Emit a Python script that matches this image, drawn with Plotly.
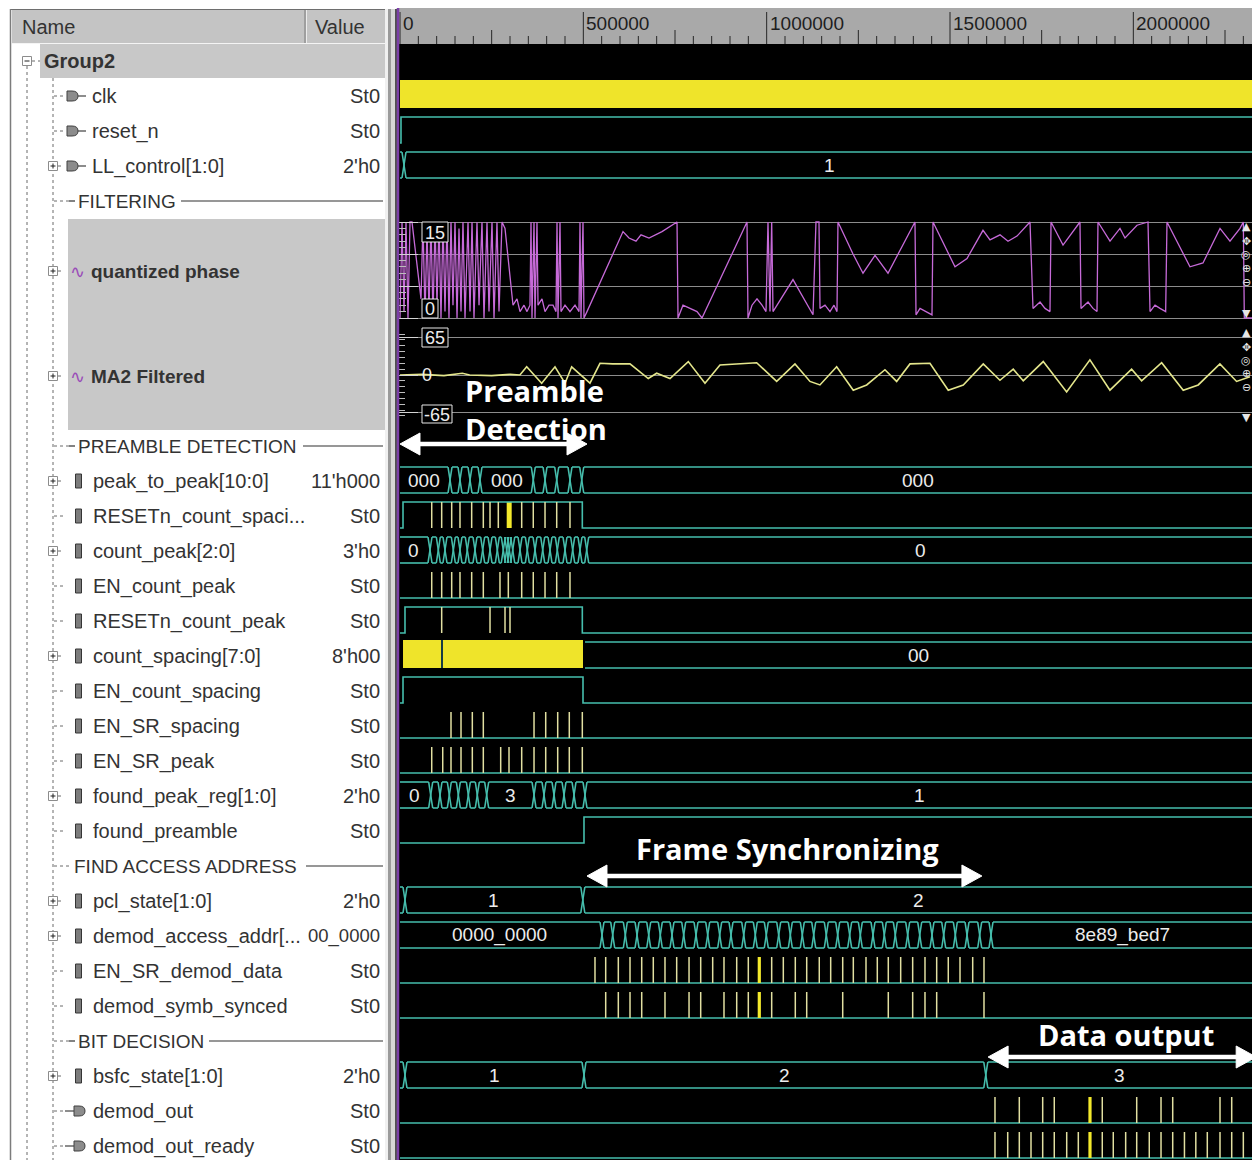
import plotly.graph_objects as go

# ------------------------------------------------------------------ canvas
W, H = 1252, 1160
PANE_X = 398                      # first pixel column of the waveform pane
T_LEFT, T_RIGHT = -5455, 2323640  # simulation-time window shown in the pane
K = 1000                          # waveform times below are in thousands
HALF = 13                         # half height of a digital trace (px)
XW = 5500                         # half width of a bus transition "X"

SANS = "Liberation Sans, Arial, sans-serif"
TEAL = "#46bead"
PULSE = "#e2e0a2"
BRIGHT = "#f3e92c"
YELLOW = "#efe42a"
PURPLE = "#c66ad8"
MA2_COLOR = "#e4e68c"
LABEL = "#ececec"
PANEL_TEXT = "#333333"

# ------------------------------------------------------------------ time ruler
TIME_TICKS = [0, 500000, 1000000, 1500000, 2000000]
TIME_TICK_LABELS = ["0", "500000", "1000000", "1500000", "2000000"]
MINOR_STEP = 50000

# ------------------------------------------------------------------ signal list
ROW_NAMES = ["Group2", "clk", "reset_n", "LL_control[1:0]", "FILTERING",
             "quantized phase", "MA2 Filtered", "PREAMBLE DETECTION",
             "peak_to_peak[10:0]", "RESETn_count_spaci...", "count_peak[2:0]",
             "EN_count_peak", "RESETn_count_peak", "count_spacing[7:0]",
             "EN_count_spacing", "EN_SR_spacing", "EN_SR_peak",
             "found_peak_reg[1:0]", "found_preamble", "FIND ACCESS ADDRESS",
             "pcl_state[1:0]", "demod_access_addr[...", "EN_SR_demod_data",
             "demod_symb_synced", "BIT DECISION", "bsfc_state[1:0]",
             "demod_out", "demod_out_ready"]
ROW_VALUES = ["", "St0", "St0", "2'h0", "", "", "", "", "11'h000", "St0", "3'h0",
              "St0", "St0", "8'h00", "St0", "St0", "St0", "2'h0", "St0", "",
              "2'h0", "00_0000", "St0", "St0", "", "2'h0", "St0", "St0"]
ROW_KINDS = ["group", "in", "in", "in+", "div", "analog+", "analog+", "div",
             "sig+", "sig", "sig+", "sig", "sig", "sig+", "sig", "sig", "sig",
             "sig+", "sig", "div", "sig+", "sig+", "sig", "sig", "div", "sig+",
             "out", "out"]
ROW_SLOTS = [1, 1, 1, 1, 1, 3, 3, 1, 1, 1, 1, 1, 1, 1, 1, 1, 1, 1, 1, 1, 1, 1,
             1, 1, 1, 1, 1, 1]

DIVIDER_TEXT_X = {"FILTERING": 76, "PREAMBLE DETECTION": 76,
                  "FIND ACCESS ADDRESS": 72, "BIT DECISION": 76}
DIVIDER_RULE_X = {"FILTERING": 181, "PREAMBLE DETECTION": 303,
                  "FIND ACCESS ADDRESS": 306, "BIT DECISION": 209}

# ------------------------------------------------------------------ waveforms (times in k-units)
RESET_N_EDGES = [2.7]
LL_CONTROL_EDGES = [10.9]
LL_CONTROL_LABELS = [None, "1"]

PEAK_TO_PEAK_EDGES = [136.4, 163.6, 190.9, 218.2, 363.5, 395.5, 427.4, 463.6, 495.6]
PEAK_TO_PEAK_LABELS = ["000", None, None, None, "000", None, None, None, None, "000"]

RESETN_SPACING_EDGES = [8.2, 497.2]
RESETN_SPACING_PULSES = [86.5, 113.7, 141.0, 163.6, 195.5, 227.2, 245.5, 268.1,
                         331.9, 363.5, 395.5, 427.4, 463.6]
RESETN_SPACING_GLITCH = [291.0, 304.6]

COUNT_PEAK_EDGES = [81.8, 104.5, 122.7, 145.4, 163.6, 183.5, 204.5, 225.5, 245.5,
                    265.4, 281.7, 291.0, 298.1, 307.4, 327.3, 347.2, 368.2, 389.2,
                    409.1, 429.0, 450.0, 471.0, 490.9, 509.2]
COUNT_PEAK_LABELS = ["0"] + [None] * 23 + ["0"]

EN_COUNT_PEAK_PULSES = [86.5, 113.7, 141.0, 163.6, 195.5, 227.2, 272.7, 295.4,
                        331.9, 363.5, 395.5, 427.4, 463.6]

RESETN_PEAK_EDGES = [13.6, 497.2]
RESETN_PEAK_PULSES = [113.7, 245.5, 286.4, 300.0]

COUNT_SPACING_BUSY = [8.2, 499.1]
COUNT_SPACING_GAP = [114.5]
COUNT_SPACING_EDGES = [499.1]
COUNT_SPACING_LABELS = [None, "00"]

EN_COUNT_SPACING_EDGES = [8.2, 499.1]
EN_SR_SPACING_PULSES = [139.1, 166.4, 197.2, 227.2, 365.5, 397.4, 430.1, 461.7, 497.2]
EN_SR_PEAK_PULSES = [86.5, 116.5, 139.1, 166.4, 197.2, 227.2, 274.6, 297.3, 331.9,
                     365.5, 397.4, 430.1, 461.7, 497.2]

FOUND_PEAK_REG_EDGES = [83.7, 109.1, 134.5, 159.1, 186.4, 210.8, 236.4, 365.5,
                        392.7, 420.0, 447.3, 474.6, 504.5]
FOUND_PEAK_REG_LABELS = ["0", None, None, None, None, None, None, "3",
                         None, None, None, None, None, "1"]

FOUND_PREAMBLE_EDGES = [501.8]

PCL_STATE_EDGES = [13.6, 498.6]
PCL_STATE_LABELS = [None, "1", "2"]

ACCESS_ADDR_EDGES = [550.9, 580.1, 614.5, 646.4, 678.3, 709.9, 741.8, 773.7, 807.3,
                     839.2, 871.9, 902.7, 937.4, 969.0, 999.0, 1032.8, 1064.5,
                     1097.2, 1128.3, 1162.6, 1193.7, 1226.4, 1255.4, 1290.0,
                     1320.8, 1350.8, 1384.6, 1417.4, 1450.9, 1482.8, 1514.5,
                     1546.4, 1581.0, 1611.8]
ACCESS_ADDR_LABELS = ["0000_0000"] + [None] * 33 + ["8e89_bed7"]

EN_SR_DEMOD_PULSES = [531.8, 561.0, 595.4, 627.3, 659.2, 690.8, 722.7, 754.6, 788.3,
                      820.1, 852.8, 883.6, 918.3, 949.9, 979.9, 1013.7, 1045.4,
                      1078.1, 1109.2, 1143.5, 1174.6, 1207.4, 1236.3, 1270.9,
                      1301.7, 1331.7, 1365.5, 1398.2, 1431.8, 1463.7, 1495.3,
                      1527.3, 1561.9, 1592.7]
SYMB_SYNCED_PULSES = [561.0, 595.4, 627.3, 659.2, 722.7, 788.3, 820.1, 883.6, 918.3,
                      949.9, 979.9, 1013.7, 1078.1, 1109.2, 1207.4, 1331.7, 1398.2,
                      1431.8, 1463.7, 1592.7]
SYNC_BRIGHT = [979.9]

BSFC_STATE_EDGES = [13.6, 501.8, 1597.6]
BSFC_STATE_LABELS = [None, "1", "2", "3"]

DEMOD_OUT_PULSES = [1622.7, 1689.0, 1752.8, 1784.4, 1881.8, 1915.3, 2009.2, 2075.5,
                    2107.4, 2236.4, 2268.3]
DEMOD_READY_PULSES = [1622.7, 1657.4, 1689.0, 1720.9, 1752.8, 1784.4, 1818.3, 1849.9,
                      1881.8, 1915.3, 1945.3, 1979.1, 2009.2, 2043.5, 2075.5,
                      2107.4, 2139.4, 2170.4, 2201.7, 2236.4, 2268.3, 2300.0]
OUT_BRIGHT = [1881.8]

QPHASE_T = [0, 5.5, 10.9, 16.4, 21.8, 27.3, 32.7, 57.3, 62.7, 68.2,
            73.6, 79.1, 84.5, 90, 95.5, 100.9, 106.4, 111.8, 117.3, 122.7,
            128.2, 133.6, 139.1, 144.5, 150, 155.5, 160.9, 166.4, 171.8, 177.3,
            185.5, 190.9, 196.4, 201.8, 210, 215.5, 223.6, 229.1, 237.3, 242.7,
            250.9, 256.4, 264.5, 270, 278.2, 286.4, 308.2, 319.1, 327.3, 338.2,
            346.4, 354.5, 357.3, 360, 365.5, 368.2, 373.6, 376.4, 387.3, 395.5,
            406.4, 417.3, 425.5, 428.2, 430.9, 436.4, 439.1, 450, 463.6, 477.3,
            488.2, 490.9, 493.6, 499.1, 501.8, 510, 608.2, 624.5, 643.6, 657.3,
            679.1, 698.2, 714.5, 755.5, 758.2, 771.8, 790.9, 810, 823.6, 946.4,
            949.1, 960, 973.6, 987.3, 998.2, 1003.6, 1009.1, 1013.7, 1017.3, 1071.8,
            1126.4, 1134.5, 1142.7, 1145.5, 1159.1, 1172.7, 1183.6, 1191.8, 1194.5, 1235.5,
            1262.7, 1295.5, 1330.9, 1404.5, 1407.3, 1418.2, 1434.5, 1450.9, 1453.6, 1513.6,
            1546.4, 1590, 1609.1, 1636.4, 1658.2, 1682.7, 1718.2, 1726.4, 1745.5, 1759.1,
            1772.7, 1775.5, 1808.2, 1854.5, 1857.3, 1876.4, 1890, 1900.9, 1903.6, 1936.4,
            1963.6, 1977.3, 2010, 2040, 2045.5, 2059.1, 2072.7, 2088.2, 2091.8, 2154.5,
            2190, 2236.4, 2263.6, 2290.9, 2300, 2302.7, 2323.6]
QPHASE_V = [0, 15, 1, 15, 0, 15, 15, 3, 15, 0,
            14, 1, 15, 0, 15, 2, 15, 0, 15, 1,
            15, 0, 15, 2, 15, 0, 14, 1, 15, 0,
            15, 1, 15, 0, 15, 2, 15, 0, 15, 1,
            15, 0, 15, 1, 15, 14, 2, 3, 1, 2,
            1, 2, 15, 0, 15, 0, 15, 2, 3, 1,
            2, 2, 1, 15, 0, 15, 1, 2, 1, 2,
            1, 15, 0, 15, 0, 1, 13.5, 12.5, 12, 13,
            12.5, 13, 13.5, 15, 0, 2, 1.5, 1, 0, 15,
            0, 2, 3, 2, 1, 15, 1, 15, 1, 6,
            0.5, 15, 15, 1.5, 2, 1, 2, 1, 15, 10,
            7, 9.8, 7, 15, 0.5, 1.5, 1, 0.5, 15, 8,
            9.3, 13.7, 12.2, 13, 12, 12.8, 15, 1.5, 2.5, 1.5,
            1, 15, 11.4, 15, 1.5, 2.5, 1.5, 1, 15, 12,
            14, 12.5, 14.5, 15, 1, 2, 1.5, 1, 15, 8,
            8.6, 14, 12, 14, 15, 0, 0]

MA2_T = [0, 60, 120, 170, 190, 250, 300, 327, 345.5, 386.4,
         422.7, 450, 468.2, 518.1, 545.4, 580, 627.2, 677.1, 700, 736.4,
         786.2, 831.8, 872.7, 920, 972.7, 1027.3, 1077.2, 1118.1, 1145.3, 1190.9,
         1236.2, 1272.7, 1322.6, 1354.5, 1390.8, 1445.3, 1495.2, 1536.1, 1590.7, 1636.2,
         1672.5, 1699.8, 1754.3, 1818.1, 1881.6, 1936.2, 1995.3, 2022.6, 2077.2, 2136.1,
         2177, 2236.1, 2281.6, 2318]
MA2_V = [0, 1, -1, 3, 0, -1, 1, 0, 14, -14,
         14, -14, 14, -14, 20, 19, 19, -6, 3, -6,
         23, -14, 17, 19, 21, -11, 19, -11, -17, 14,
         -26, -17, 9, -11, 19, 20, -26, -17, 19, -9,
         10, -10, 23, -29, 26, -26, 10, -10, 21, -26,
         -17, 19, -11, -3]

# phases marked with white arrows (k-units)
PREAMBLE_SPAN = [0, 510]
FRAME_SYNC_SPAN = [510, 1587]
DATA_OUT_SPAN = [1604, 2335]

# ------------------------------------------------------------------ helpers
shapes, annos = [], []
teal = {"x": [], "y": []}
pale = {"x": [], "y": []}
bright = {"x": [], "y": []}
gap = {"x": [], "y": []}


def xp(px):
    return px / W


def add_seg(tr, x0, y0, x1, y1):
    tr["x"] += [x0, x1, None]
    tr["y"] += [y0, y1, None]


def text(x, y, s, size=20, color=PANEL_TEXT, xref="x2", xanchor="left",
         bold=False, family=SANS):
    annos.append(dict(x=x, y=y, xref=xref, yref="y",
                      text=f"<b>{s}</b>" if bold else s, showarrow=False,
                      xanchor=xanchor, yanchor="middle",
                      font=dict(size=size, color=color, family=family)))


def rect(x0, x1, y0, y1, fill, xref="x2", line_color=None, layer="below", lw=1):
    shapes.append(dict(type="rect", xref=xref, yref="y", x0=x0, x1=x1, y0=y0, y1=y1,
                       fillcolor=fill, layer=layer,
                       line=dict(width=lw if line_color else 0,
                                 color=line_color or "rgba(0,0,0,0)")))


def hline(x0, x1, y, color, width=1, xref="x2", dash="solid", layer="below"):
    shapes.append(dict(type="line", xref=xref, yref="y", x0=x0, x1=x1, y0=y, y1=y,
                       layer=layer, line=dict(color=color, width=width, dash=dash)))


def vline(x, y0, y1, color, width=1, xref="x2", dash="solid", layer="below"):
    shapes.append(dict(type="line", xref=xref, yref="y", x0=x, x1=x, y0=y0, y1=y1,
                       layer=layer, line=dict(color=color, width=width, dash=dash)))


def level(c, edges, start_high=False):
    hi, lo = c - HALF, c + HALF
    y = hi if start_high else lo
    xs, ys = [0], [y]
    for e in edges:
        ny = lo if y == hi else hi
        xs += [e * K, e * K]
        ys += [y, ny]
        y = ny
    xs.append(T_RIGHT)
    ys.append(y)
    teal["x"] += xs + [None]
    teal["y"] += ys + [None]


def pulses(c, times, strong=()):
    for e in times:
        add_seg(bright if e in strong else pale, e * K, c - HALF, e * K, c + HALF)


def bus(c, edges, labels, skip=()):
    hi, lo = c - HALF, c + HALF
    bounds = [0] + [e * K for e in edges] + [T_RIGHT]
    for i in range(len(bounds) - 1):
        a = bounds[i] + (XW if i > 0 else 0)
        b = bounds[i + 1] - (XW if i < len(edges) else 0)
        if i not in skip and b > a:
            add_seg(teal, a, hi, b, hi)
            add_seg(teal, a, lo, b, lo)
        if labels[i]:
            text((max(a, 0) + b) / 2, c, labels[i], size=19, color=LABEL,
                 xref="x", xanchor="center")
    for e in edges:
        if 0 in skip and e == edges[0] and len(edges) == 1:
            continue
        t = e * K
        add_seg(teal, t - XW, hi, t + XW, lo)
        add_seg(teal, t - XW, lo, t + XW, hi)


def busy(c, span):
    rect(span[0] * K, span[1] * K, c - 15, c + 13, YELLOW, xref="x")


def arrow(span, y, head=54500, half=11):
    t0, t1 = span[0] * K, span[1] * K
    hline(t0 + head - 2000, t1 - head + 2000, y, "white", width=4.5, xref="x",
          layer="above")
    for tip, base in ((t0, t0 + head), (t1, t1 - head)):
        shapes.append(dict(type="path", xref="x", yref="y", layer="above",
                           path=f"M {tip},{y} L {base},{y - half} L {base},{y + half} Z",
                           fillcolor="white", line=dict(color="white", width=1)))


# ------------------------------------------------------------------ row geometry
centers = []
slot = 0
for n in ROW_SLOTS:
    centers.append(61 + 35 * (slot + (n - 1) / 2))
    slot += n
wc = {name: c - 1 for name, c in zip(ROW_NAMES, centers)}

# ------------------------------------------------------------------ name / value panel
rect(12, 385, 10, 43, "#c4c4c4")
hline(10, 385, 9.5, "#6e6e6e")
vline(10.5, 9, H, "#7c7c7c", width=1.5)
vline(305, 10, 43, "#7a7a7a")
vline(306.5, 10, 43, "#ececec")
hline(12, 385, 43.5, "#f4f4f4")
text(20, 27, "Name", size=20)
text(313, 27, "Value", size=20)

rect(40, 385, 44, 78, "#c8c8c8")
rect(68, 385, 219, 430, "#c8c8c8")
vline(27, 66, H, "#6a6a6a", dash="dot")
vline(53, 78, H, "#6a6a6a", dash="dot")
# splitter between the panes
rect(385, 388, 9, H, "#f0f0f0")
rect(388, 391, 9, H, "#9a9a9a")
rect(391, 395, 9, H, "#d6d6d6")
rect(395, 398, 9, H, "#505050")

for name, value, kind, c in zip(ROW_NAMES, ROW_VALUES, ROW_KINDS, centers):
    if kind == "group":
        rect(22.5, 31.5, c - 4.5, c + 4.5, "white", line_color="#8c8c8c")
        hline(24.5, 29.5, c, "#202020")
        hline(32, 40, c, "#6a6a6a", dash="dot")
        text(42, c, name, size=20, bold=True)
        continue
    base = kind.rstrip("+")
    if kind.endswith("+"):
        rect(48.5, 57.5, c - 4.5, c + 4.5, "white", line_color="#8c8c8c")
        hline(50.5, 55.5, c, "#202020")
        vline(53, c - 2.5, c + 2.5, "#202020")
        hline(58, 64, c, "#6a6a6a", dash="dot")
    else:
        hline(54, 64 if base != "div" else 69, c, "#6a6a6a", dash="dot")

    if base == "div":
        tx = DIVIDER_TEXT_X[name]
        if tx >= 76:
            hline(69, 75, c, "#303030", width=1.2)
        text(tx, c, name, size=19)
        hline(DIVIDER_RULE_X[name], 383, c, "#303030", width=1.2)
        continue
    if base == "in":
        shapes.append(dict(type="path", xref="x2", yref="y", layer="below",
                           path=f"M 67,{c - 5} L 72,{c - 5} Q 78,{c - 5} 78,{c} "
                                f"Q 78,{c + 5} 72,{c + 5} L 67,{c + 5} Z",
                           fillcolor="#8c8c8c", line=dict(color="#404040", width=1)))
        hline(78, 86, c, "#404040", width=1.2)
        text(90, c, name)
    elif base == "out":
        hline(65, 74, c, "#404040", width=1.2)
        shapes.append(dict(type="path", xref="x2", yref="y", layer="below",
                           path=f"M 74,{c - 5} L 79,{c - 5} Q 85,{c - 5} 85,{c} "
                                f"Q 85,{c + 5} 79,{c + 5} L 74,{c + 5} Z",
                           fillcolor="#8c8c8c", line=dict(color="#404040", width=1)))
        text(91, c, name)
    elif base == "analog":
        text(68, c, "∿", size=18, color="#9a4cb8", family="DejaVu Sans")
        text(89, c, name, size=19, bold=True)
    else:
        rect(75.5, 81.5, c - 7, c + 7, "#7c7c7c", line_color="#353535")
        text(91, c, name)
    if value:
        text(382, c, value, xanchor="right", size=18.5 if "_" in value else 20)

# ------------------------------------------------------------------ waveform pane
rect(xp(PANE_X), 1, 44, H, "black", xref="paper")
rect(xp(PANE_X), 1, 8, 44, "#a9a9a9", xref="paper")
for t in range(0, T_RIGHT, MINOR_STEP):
    if t in TIME_TICKS:
        continue
    vline(t, 30 if t % 250000 == 0 else 36, 44, "#262626", xref="x")
for t, lab in zip(TIME_TICKS, TIME_TICK_LABELS):
    vline(t, 12, 44, "#262626", xref="x")
    annos.append(dict(x=t, y=23, xref="x", yref="y", text=lab, showarrow=False,
                      xanchor="left", yanchor="middle", xshift=1,
                      font=dict(size=19, color="#1e1e1e", family=SANS)))

# digital rows
busy(wc["clk"], [0, T_RIGHT / K])
level(wc["reset_n"], RESET_N_EDGES)
bus(wc["LL_control[1:0]"], LL_CONTROL_EDGES, LL_CONTROL_LABELS)
bus(wc["peak_to_peak[10:0]"], PEAK_TO_PEAK_EDGES, PEAK_TO_PEAK_LABELS)

c = wc["RESETn_count_spaci..."]
level(c, RESETN_SPACING_EDGES)
pulses(c, RESETN_SPACING_PULSES)
rect(RESETN_SPACING_GLITCH[0] * K, RESETN_SPACING_GLITCH[1] * K, c - HALF, c + HALF,
     BRIGHT, xref="x")

bus(wc["count_peak[2:0]"], COUNT_PEAK_EDGES, COUNT_PEAK_LABELS)
c = wc["EN_count_peak"]
level(c, [])
pulses(c, EN_COUNT_PEAK_PULSES)
c = wc["RESETn_count_peak"]
level(c, RESETN_PEAK_EDGES)
pulses(c, RESETN_PEAK_PULSES)

c = wc["count_spacing[7:0]"]
busy(c, COUNT_SPACING_BUSY)
for g in COUNT_SPACING_GAP:
    add_seg(gap, g * K, c - 15, g * K, c + 13)
bus(c, COUNT_SPACING_EDGES, COUNT_SPACING_LABELS, skip=(0,))

level(wc["EN_count_spacing"], EN_COUNT_SPACING_EDGES)
c = wc["EN_SR_spacing"]
level(c, [])
pulses(c, EN_SR_SPACING_PULSES)
c = wc["EN_SR_peak"]
level(c, [])
pulses(c, EN_SR_PEAK_PULSES)
bus(wc["found_peak_reg[1:0]"], FOUND_PEAK_REG_EDGES, FOUND_PEAK_REG_LABELS)
level(wc["found_preamble"], FOUND_PREAMBLE_EDGES)

bus(wc["pcl_state[1:0]"], PCL_STATE_EDGES, PCL_STATE_LABELS)
bus(wc["demod_access_addr[..."], ACCESS_ADDR_EDGES, ACCESS_ADDR_LABELS)
c = wc["EN_SR_demod_data"]
level(c, [])
pulses(c, EN_SR_DEMOD_PULSES, SYNC_BRIGHT)
c = wc["demod_symb_synced"]
level(c, [])
pulses(c, SYMB_SYNCED_PULSES, SYNC_BRIGHT)

bus(wc["bsfc_state[1:0]"], BSFC_STATE_EDGES, BSFC_STATE_LABELS)
c = wc["demod_out"]
level(c, [])
pulses(c, DEMOD_OUT_PULSES, OUT_BRIGHT)
c = wc["demod_out_ready"]
level(c, [])
pulses(c, DEMOD_READY_PULSES, OUT_BRIGHT)

# analog value boxes
for x0, x1, y0, y1, lab in ((422, 448, 222, 242, "15"), (422, 438, 299, 318, "0"),
                            (422, 448, 328, 347, "65"), (422, 452, 405, 423, "-65")):
    rect(xp(x0), xp(x1), y0, y1, "black", xref="paper", line_color="#e8e8e8",
         layer="above")
    annos.append(dict(x=xp((x0 + x1) / 2), y=(y0 + y1) / 2 + 0.5, xref="paper",
                      yref="y", text=lab, showarrow=False, xanchor="center",
                      yanchor="middle", font=dict(size=18, color=LABEL, family=SANS)))
annos.append(dict(x=xp(427), y=375, xref="paper", yref="y", text="0", showarrow=False,
                  xanchor="center", yanchor="middle",
                  font=dict(size=18, color=LABEL, family=SANS)))

# scroll / zoom controls at the right edge of the analog rows
for y, g in ((226, "▲"), (241, "✥"), (254, "◎"), (268, "⊕"), (282, "⊖"), (313, "▼"),
             (332, "▲"), (347, "✥"), (360, "◎"), (373, "⊕"), (387, "⊖"), (417, "▼")):
    annos.append(dict(x=xp(1246), y=y, xref="paper", yref="y", text=g,
                      showarrow=False, xanchor="center", yanchor="middle",
                      font=dict(size=11, color="#e6e6e6", family="DejaVu Sans")))

# cursor at time zero
vline(xp(PANE_X), 8, H, "#7b3fa8", width=2.5, xref="paper", layer="above")

# phase annotations
arrow(PREAMBLE_SPAN, 444)
arrow(FRAME_SYNC_SPAN, 876)
arrow(DATA_OUT_SPAN, 1057)
for x, y, s in ((463, 409, "Preamble<br>Detection"),
                (634, 848, "Frame Synchronizing"), (1036, 1034, "Data output")):
    annos.append(dict(x=xp(x), y=y, xref="paper", yref="y", text=f"<b>{s}</b>",
                      showarrow=False, xanchor="left", yanchor="middle", align="left",
                      font=dict(size=29, color="white", family="Open Sans")))

# ------------------------------------------------------------------ figure
fig = go.Figure()
fig.add_trace(go.Scatter(x=[None], y=[None], xaxis="x2", yaxis="y", hoverinfo="skip"))
fig.add_trace(go.Scatter(x=[t * K for t in QPHASE_T], y=QPHASE_V, xaxis="x", yaxis="y2",
                         mode="lines", line=dict(color=PURPLE, width=1.3),
                         hoverinfo="skip"))
fig.add_trace(go.Scatter(x=[t * K for t in MA2_T], y=MA2_V, xaxis="x", yaxis="y3",
                         mode="lines", line=dict(color=MA2_COLOR, width=1.6),
                         hoverinfo="skip"))
for tr, col, w in ((teal, TEAL, 1.6), (pale, PULSE, 1.5), (bright, BRIGHT, 3.2),
                   (gap, "#183c44", 2)):
    fig.add_trace(go.Scatter(x=tr["x"], y=tr["y"], xaxis="x", yaxis="y", mode="lines",
                             line=dict(color=col, width=w), hoverinfo="skip"))

fig.update_layout(
    width=W, height=H, margin=dict(l=0, r=0, t=0, b=0),
    paper_bgcolor="white", plot_bgcolor="rgba(0,0,0,0)", showlegend=False,
    hovermode=False, shapes=shapes, annotations=annos,
    xaxis=dict(range=[T_LEFT, T_RIGHT], domain=[PANE_X / W, 1], anchor="y",
               visible=False, fixedrange=True),
    xaxis2=dict(range=[0, PANE_X], domain=[0, PANE_X / W], anchor="y",
                visible=False, fixedrange=True),
    yaxis=dict(range=[H, 0], domain=[0, 1], anchor="x", visible=False,
               fixedrange=True),
    yaxis2=dict(domain=[1 - 322 / H, 1 - 218 / H], range=[-0.625, 15.625], anchor="x",
                showgrid=True, gridcolor="#8c8c8c", gridwidth=1,
                tickvals=[0, 5, 10, 15], ticks="inside", ticklen=20,
                tickcolor="#d4d4d4", showticklabels=False, zeroline=False,
                showline=False, fixedrange=True,
                minor=dict(tick0=0, dtick=1, ticks="inside", ticklen=8,
                           tickcolor="#bdbdbd", showgrid=False)),
    yaxis3=dict(domain=[1 - 420 / H, 1 - 330 / H], range=[-77, 77], anchor="x",
                showgrid=True, gridcolor="#8c8c8c", gridwidth=1,
                tickvals=[-65, 0, 65], ticks="inside", ticklen=20,
                tickcolor="#d4d4d4", showticklabels=False, zeroline=False,
                showline=False, fixedrange=True,
                minor=dict(tick0=0, dtick=10, ticks="inside", ticklen=7,
                           tickcolor="#bdbdbd", showgrid=False)),
)

fig.write_html("out.html", config={"displayModeBar": False, "staticPlot": True})
